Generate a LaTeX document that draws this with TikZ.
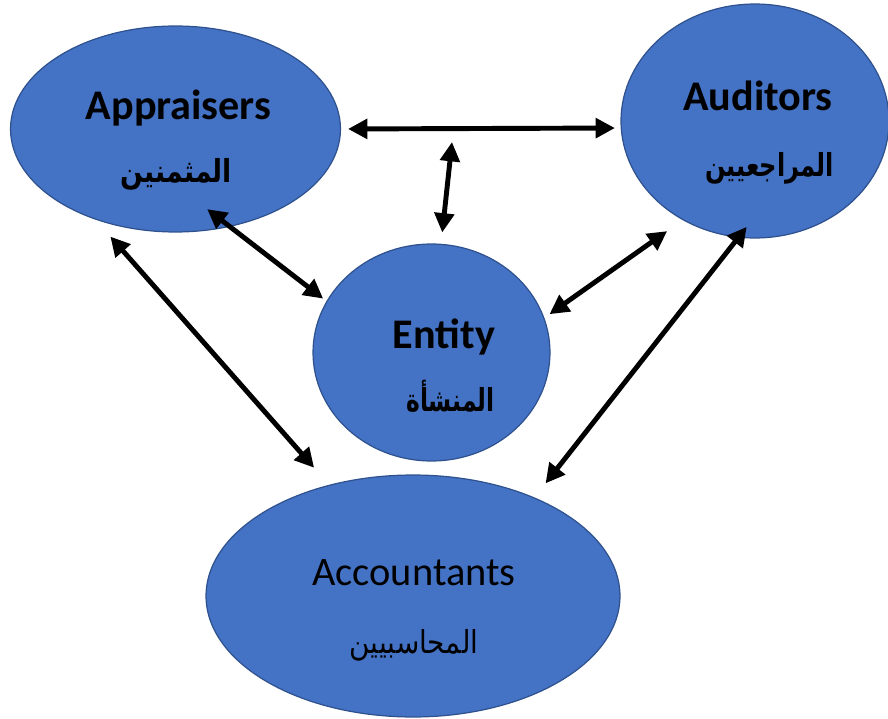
\documentclass[tikz,border=0pt]{standalone}
\usepackage{fontspec}
\usepackage{graphicx}
\setmainfont{Carlito}
\newfontfamily\arabicfont[Script=Arabic]{DejaVu Sans}
\TeXXeTstate=1
\usetikzlibrary{shapes.geometric,arrows.meta}
\definecolor{fillblue}{HTML}{4472C4}
\definecolor{edgeblue}{HTML}{2F528F}
\newcommand\narrow[2]{\scalebox{#1}[1]{#2}}
\tikzset{
  party/.style={ellipse, draw=edgeblue, fill=fillblue, line width=0.7pt, inner sep=0pt, outer sep=0pt},
  link/.style={{Triangle[length=11pt,width=11pt]}-{Triangle[length=11pt,width=11pt]}, line width=2.8pt},
  engl/.style={anchor=base, inner sep=0pt, font=\fontsize{24}{28}\selectfont},
  arab/.style={anchor=base, inner sep=0pt, font=\arabicfont\fontsize{18}{21}\selectfont}
}
\begin{document}
\begin{tikzpicture}[x=0.02cm,y=-0.02cm]
\useasboundingbox (0,0) rectangle (888,719);

% the four parties
\node[party, minimum width=6.6cm, minimum height=4.12cm] (app) at (175.5,129) {};
\node[party, minimum width=5.36cm, minimum height=4.68cm] (aud) at (755,121) {};
\node[party, minimum width=4.74cm, minimum height=4.34cm] (ent) at (431.5,352.5) {};
\node[party, minimum width=8.28cm, minimum height=4.84cm] (acc) at (413,596) {};

% names
\node[engl] (appT) at (178.5,120) {\bfseries Appraisers};
\node[arab] (appA) at (176.5,183) {\narrow{0.84}{\bfseries\beginR المثمنين\endR}};
\node[engl] (audT) at (758,111) {\bfseries Auditors};
\node[arab] (audA) at (769.5,177) {\narrow{0.76}{\bfseries\beginR المراجعيين\endR}};
\node[engl] (entT) at (444,348) {\bfseries Entity};
\node[arab] (entA) at (450.5,411) {\narrow{0.74}{\bfseries\beginR المنشأة\endR}};
\node[engl, font=\fontsize{23}{27}\selectfont] (accT) at (414,585) {Accountants};
\node[arab] (accA) at (414,653) {\narrow{0.88}{\beginR المحاسبيين\endR}};

% links
\coordinate (hub) at (452,142);
\draw[link, shorten <=4.3pt, shorten >=3.6pt] (app.0.35) -- (aud.183.9);
\draw[link, shorten <=6.8pt] (ent.85.5) -- (hub);
\draw[link, shorten <=-16pt, shorten >=2.7pt] (app.-61) -- (ent.154.2);
\draw[link, shorten <=3.9pt, shorten >=11.2pt] (ent.17.6) -- (aud.234);
\draw[link, shorten <=13.5pt, shorten >=13.3pt] (app.228.3) -- (acc.127.5);
\draw[link, shorten <=-7.4pt, shorten >=10.5pt] (aud.262.6) -- (acc.39.3);

\end{tikzpicture}
\end{document}
